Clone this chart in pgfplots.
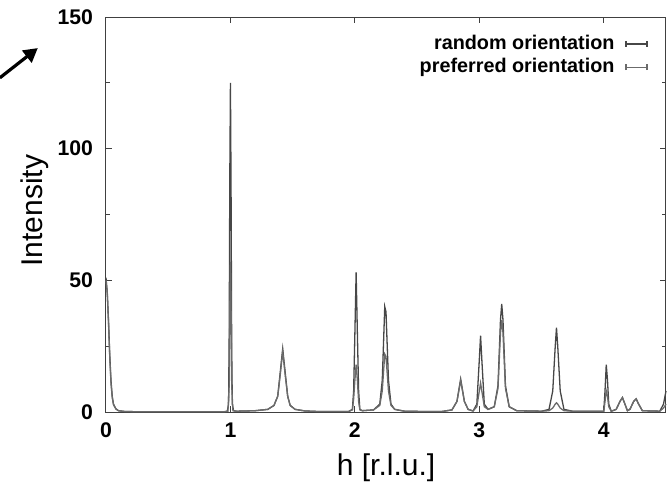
\documentclass[border=0pt]{standalone}
\usepackage{pgfplots}
\pgfplotsset{compat=1.18}
\usepackage{fontspec}
\setmainfont{Liberation Sans}
\usetikzlibrary{arrows.meta}
\begin{document}
\begin{tikzpicture}
\begin{axis}[
  name=ax,
  scale only axis,
  width=280pt, height=197.5pt,
  xmin=0, xmax=4.5, ymin=0, ymax=150,
  xtick={0,1,2,3,4}, ytick={0,50,100,150},
  minor y tick num=1,
  tick align=inside,
  major tick length=3pt, minor tick length=2pt,
  axis line style={black!75, line width=0.5pt},
  tick style={black!75, line width=0.5pt},
  /pgf/number format/assume math mode=true,
  ticklabel style={font=\fontsize{10.6}{12}\selectfont\bfseries},
  yticklabel style={xshift=-3pt},
  xticklabel style={yshift=-2pt},
  xlabel={h [r.l.u.]}, ylabel={Intensity},
  label style={font=\fontsize{15}{17}\selectfont},
  xlabel style={at={(axis description cs:0.5,-0.142)}, anchor=center},
  ylabel style={at={(axis description cs:-0.127,0.51)}, anchor=center, rotate=0},
  clip=false,
  legend plot pos=right,
  legend cell align=right,
  legend style={draw=none, fill=none, at={(rel axis cs:0.968,0.965)}, anchor=north east,
    font=\fontsize{9.9}{10}\selectfont\bfseries, inner sep=0pt, row sep=-1pt, column sep=3.5pt},
  legend image code/.code={\draw[#1, line width=0.6pt] (0pt,0pt) -- (10.5pt,0pt) (0pt,-1.5pt) -- (0pt,1.5pt) (10.5pt,-1.5pt) -- (10.5pt,1.5pt);},
]
\addplot[black!72, line width=0.65pt, sharp plot] coordinates {
(0.00,51) (0.01,45) (0.02,35) (0.03,22) (0.04,12) (0.05,6) (0.06,3) (0.08,1.2) (0.10,0.5) (0.15,0.2) (0.25,0.1)
(0.95,0.1) (0.975,0.3) (0.985,3) (0.99,30) (0.995,90) (1.000,125) (1.005,85) (1.01,25) (1.015,3) (1.025,0.5) (1.05,0.3)
(1.2,0.5) (1.3,1) (1.35,2.5) (1.38,6) (1.40,15) (1.42,24) (1.44,15) (1.46,6) (1.48,2.5) (1.52,1) (1.6,0.4) (1.7,0.2)
(1.95,0.2) (1.98,1) (1.99,8) (2.00,30) (2.01,53) (2.02,30) (2.03,8) (2.04,1) (2.06,0.5) (2.15,0.8) (2.2,3) (2.22,12)
(2.24,40) (2.25,38) (2.27,12) (2.29,3) (2.32,1) (2.4,0.3) (2.55,0.2) (2.7,0.2) (2.78,0.8) (2.82,4) (2.85,12.5) (2.88,4)
(2.91,1) (2.95,0.4) (2.98,3) (3.00,20) (3.01,29) (3.02,20) (3.04,3) (3.07,1) (3.12,2) (3.15,10) (3.17,35) (3.18,41)
(3.19,35) (3.21,10) (3.24,2) (3.3,0.5) (3.5,0.3) (3.56,1) (3.59,8) (3.61,25) (3.62,32) (3.63,25) (3.65,8) (3.68,1)
(3.75,0.3) (4.0,0.3) (4.01,8) (4.02,18) (4.03,12) (4.04,3) (4.06,0.3) (4.10,1) (4.13,4) (4.15,5.5) (4.17,3) (4.19,0.5)
(4.21,1) (4.24,4) (4.26,5) (4.28,3) (4.31,0.5) (4.45,0.3) (4.48,3) (4.50,8)
};
\addlegendentry{random orientation}
\addplot[black!58, line width=0.65pt, sharp plot] coordinates {
(0.00,50) (0.01,46) (0.02,34) (0.03,21) (0.04,11) (0.05,5.5) (0.06,2.8) (0.08,1.1) (0.10,0.5) (0.15,0.2) (0.25,0.1)
(0.95,0.1) (0.98,0.3) (0.99,10) (0.995,40) (1.00,57) (1.005,40) (1.01,10) (1.02,0.5) (1.05,0.3)
(1.2,0.5) (1.3,1) (1.35,2.5) (1.38,6) (1.40,14) (1.42,23) (1.44,14) (1.46,6) (1.48,2.5) (1.52,1) (1.6,0.4) (1.7,0.2)
(1.95,0.2) (1.98,0.8) (1.99,5) (2.00,12) (2.01,18) (2.02,12) (2.03,4) (2.04,0.8) (2.06,0.5) (2.15,0.8) (2.2,2.5) (2.22,8)
(2.24,22) (2.25,21) (2.27,8) (2.29,2.5) (2.32,1) (2.4,0.3) (2.55,0.2) (2.7,0.2) (2.78,0.8) (2.82,4) (2.85,12) (2.88,4)
(2.91,1) (2.95,0.4) (2.98,2) (3.00,8) (3.01,11) (3.02,8) (3.04,2) (3.07,1) (3.12,2) (3.15,9) (3.17,30) (3.18,35)
(3.19,30) (3.21,9) (3.24,2) (3.3,0.5) (3.5,0.3) (3.56,0.5) (3.59,1.5) (3.61,3) (3.62,3.5) (3.63,3) (3.65,1.5) (3.68,0.5)
(3.75,0.3) (4.0,0.3) (4.01,4) (4.02,8) (4.03,6) (4.04,2) (4.06,0.3) (4.10,1) (4.13,4) (4.15,5.5) (4.17,3) (4.19,0.5)
(4.21,1) (4.24,4) (4.26,5) (4.28,3) (4.31,0.5) (4.45,0.3) (4.48,1.5) (4.50,3)
};
\addlegendentry{preferred orientation}
\draw[-{Triangle[length=7pt,width=7.5pt]}, line width=1.6pt, black] (axis cs:-0.853,126.9) -- (axis cs:-0.548,138.2);
\end{axis}
\pgfresetboundingbox
\path ([shift={(-53pt,-35.5pt)}]ax.south west) rectangle ([shift={(1pt,8.5pt)}]ax.north east);
\end{tikzpicture}
\end{document}
